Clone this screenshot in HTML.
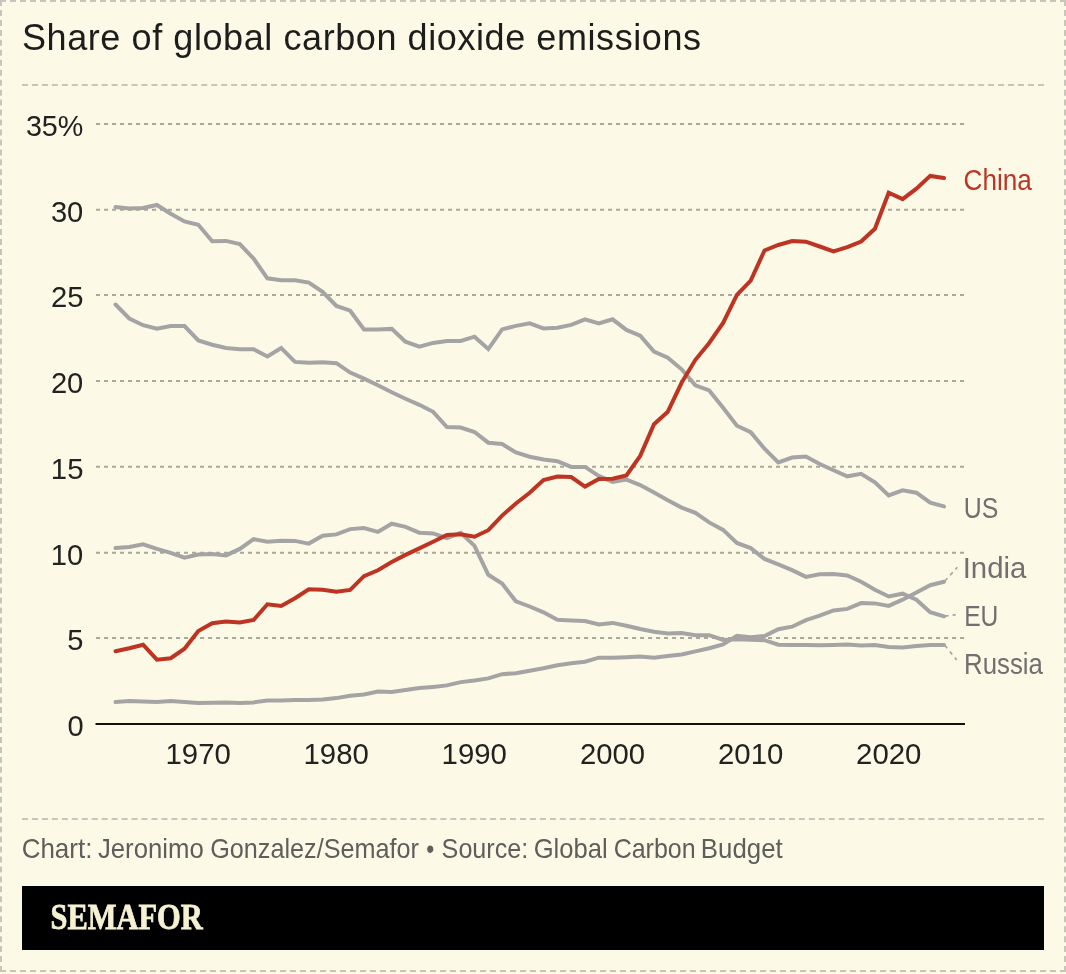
<!DOCTYPE html>
<html lang="en"><head><meta charset="utf-8"><title>Share of global carbon dioxide emissions</title>
<style>
html,body{margin:0;padding:0;background:#fcfae7;}
body{width:1066px;height:974px;position:relative;overflow:hidden;font-family:"Liberation Sans",Arial,sans-serif;}
#chart{position:absolute;left:0;top:0;width:1066px;height:974px;display:block;}
text{font-family:"Liberation Sans",Arial,sans-serif;}
.serif{font-family:"Liberation Serif","Times New Roman",serif;font-weight:bold;}
</style></head><body>
<svg id="chart" width="1066" height="974" viewBox="0 0 1066 974">
<rect x="0" y="0" width="1066" height="974" fill="#fcfae7"/>
<!-- outer dashed frame -->
<g stroke="#c8c5bd" stroke-width="2" fill="none">
<line x1="0" y1="1" x2="1066" y2="1" stroke-dasharray="6 4"/>
<line x1="0" y1="971" x2="1066" y2="971" stroke-dasharray="6 4"/>
<line x1="1" y1="0" x2="1" y2="972" stroke-dasharray="6 3.959"/>
<line x1="1065" y1="0" x2="1065" y2="972" stroke-dasharray="6 3.959"/>
<line x1="22" y1="85" x2="1044" y2="85" stroke-dasharray="6 3.96"/>
<line x1="22" y1="819" x2="1044" y2="819" stroke-dasharray="6 3.96"/>
</g>
<text x="22" y="50" font-size="36" fill="#1d1d1b" textLength="679" lengthAdjust="spacing">Share of global carbon dioxide emissions</text>
<!-- grid -->
<g stroke="#a9a998" stroke-width="2" stroke-dasharray="4 4" fill="none">
<line x1="96" y1="123.9" x2="965" y2="123.9"/>
<line x1="96" y1="209.7" x2="965" y2="209.7"/>
<line x1="96" y1="295.1" x2="965" y2="295.1"/>
<line x1="96" y1="380.9" x2="965" y2="380.9"/>
<line x1="96" y1="466.7" x2="965" y2="466.7"/>
<line x1="96" y1="552.8" x2="965" y2="552.8"/>
<line x1="96" y1="638.0" x2="965" y2="638.0"/>
</g>
<line x1="95.5" y1="724" x2="965" y2="724" stroke="#111" stroke-width="2"/>
<g fill="#222220">
<text x="25.90" y="135.9" font-size="30" textLength="57.48" lengthAdjust="spacingAndGlyphs">35%</text>
<text x="50.88" y="221.7" font-size="30" textLength="32.43" lengthAdjust="spacingAndGlyphs">30</text>
<text x="50.91" y="307.1" font-size="30" textLength="32.50" lengthAdjust="spacingAndGlyphs">25</text>
<text x="50.92" y="392.9" font-size="30" textLength="32.39" lengthAdjust="spacingAndGlyphs">20</text>
<text x="50.86" y="478.7" font-size="30" textLength="32.56" lengthAdjust="spacingAndGlyphs">15</text>
<text x="50.87" y="564.8" font-size="30" textLength="32.45" lengthAdjust="spacingAndGlyphs">10</text>
<text x="67.34" y="650.0" font-size="30" textLength="16.13" lengthAdjust="spacingAndGlyphs">5</text>
<text x="67.42" y="735.7" font-size="30" textLength="16.16" lengthAdjust="spacingAndGlyphs">0</text>
<text x="165.45" y="763.9" font-size="30" textLength="65.41" lengthAdjust="spacingAndGlyphs">1970</text>
<text x="303.45" y="763.9" font-size="30" textLength="65.41" lengthAdjust="spacingAndGlyphs">1980</text>
<text x="441.55" y="763.9" font-size="30" textLength="65.41" lengthAdjust="spacingAndGlyphs">1990</text>
<text x="579.91" y="763.9" font-size="30" textLength="65.03" lengthAdjust="spacingAndGlyphs">2000</text>
<text x="718.01" y="763.9" font-size="30" textLength="65.35" lengthAdjust="spacingAndGlyphs">2010</text>
<text x="856.11" y="763.9" font-size="30" textLength="65.35" lengthAdjust="spacingAndGlyphs">2020</text>
</g>
<g fill="none" stroke="#a5a4a4" stroke-width="4" stroke-linejoin="miter" stroke-linecap="round">
<path d="M115.5,702.1 L129.3,701.1 L143.1,701.4 L156.9,702.1 L170.7,701.1 L184.5,702.1 L198.3,703.1 L212.2,702.8 L226.0,702.6 L239.8,703.1 L253.6,702.4 L267.4,700.4 L281.2,700.4 L295.0,699.9 L308.8,700.1 L322.6,699.6 L336.4,698.1 L350.2,695.7 L364.0,694.4 L377.9,691.6 L391.7,692.1 L405.5,690.1 L419.3,688.1 L433.1,686.9 L446.9,685.4 L460.7,682.1 L474.5,680.4 L488.3,678.4 L502.1,674.2 L515.9,673.2 L529.7,670.7 L543.5,668.2 L557.4,665.2 L571.2,663.2 L585.0,661.7 L598.8,657.7 L612.6,657.7 L626.4,657.2 L640.2,656.4 L654.0,657.7 L667.8,655.9 L681.6,654.4 L695.4,651.4 L709.2,648.2 L723.1,644.5 L736.9,635.7 L750.7,637.2 L764.5,636.0 L778.3,629.2 L792.1,626.7 L805.9,620.1 L819.7,615.7 L833.5,610.4 L847.3,608.9 L861.1,603.1 L874.9,603.4 L888.7,605.9 L902.6,599.7 L916.4,592.5 L930.2,585.2 L944.0,581.7"/>
<path d="M115.5,548.1 L129.3,546.9 L143.1,544.4 L156.9,548.9 L170.7,552.9 L184.5,557.6 L198.3,554.6 L212.2,554.1 L226.0,555.4 L239.8,548.9 L253.6,539.2 L267.4,541.7 L281.2,540.7 L295.0,540.9 L308.8,543.6 L322.6,535.7 L336.4,534.4 L350.2,529.1 L364.0,528.1 L377.9,531.9 L391.7,523.7 L405.5,526.9 L419.3,532.7 L433.1,533.4 L446.9,538.2 L460.7,532.9 L474.5,545.9 L488.3,574.8 L502.1,583.6 L515.9,601.3 L529.7,606.5 L543.5,612.3 L557.4,619.8 L571.2,620.5 L585.0,621.0 L598.8,624.5 L612.6,622.9 L626.4,625.7 L640.2,629.0 L654.0,631.7 L667.8,633.5 L681.6,633.0 L695.4,635.2 L709.2,635.2 L723.1,640.0 L736.9,639.2 L750.7,639.7 L764.5,640.2 L778.3,644.7 L792.1,645.0 L805.9,644.9 L819.7,645.2 L833.5,644.9 L847.3,644.5 L861.1,645.5 L874.9,644.9 L888.7,646.9 L902.6,647.6 L916.4,646.1 L930.2,645.1 L944.0,645.1"/>
<path d="M115.5,304.5 L129.3,318.5 L143.1,325.2 L156.9,328.7 L170.7,326.0 L184.5,326.0 L198.3,340.5 L212.2,344.7 L226.0,348.0 L239.8,349.2 L253.6,349.2 L267.4,356.4 L281.2,348.0 L295.0,361.9 L308.8,362.7 L322.6,362.2 L336.4,363.2 L350.2,372.6 L364.0,378.6 L377.9,385.3 L391.7,392.3 L405.5,398.8 L419.3,404.8 L433.1,411.8 L446.9,427.0 L460.7,427.5 L474.5,432.0 L488.3,442.7 L502.1,444.0 L515.9,452.4 L529.7,456.7 L543.5,459.4 L557.4,461.2 L571.2,466.9 L585.0,466.9 L598.8,475.9 L612.6,481.9 L626.4,479.6 L640.2,485.1 L654.0,492.6 L667.8,500.2 L681.6,507.6 L695.4,512.8 L709.2,522.4 L723.1,529.9 L736.9,542.9 L750.7,548.1 L764.5,558.9 L778.3,564.4 L792.1,570.1 L805.9,576.9 L819.7,574.2 L833.5,573.9 L847.3,575.4 L861.1,581.7 L874.9,589.7 L888.7,596.5 L902.6,593.7 L916.4,599.7 L930.2,612.2 L944.0,616.4"/>
<path d="M115.5,207.0 L129.3,208.5 L143.1,208.0 L156.9,205.0 L170.7,213.7 L184.5,221.4 L198.3,224.7 L212.2,241.2 L226.0,240.9 L239.8,244.1 L253.6,258.6 L267.4,278.3 L281.2,280.3 L295.0,280.3 L308.8,282.6 L322.6,291.8 L336.4,306.0 L350.2,310.7 L364.0,329.5 L377.9,329.4 L391.7,328.9 L405.5,341.7 L419.3,346.6 L433.1,342.9 L446.9,340.9 L460.7,340.9 L474.5,336.7 L488.3,349.1 L502.1,329.4 L515.9,325.9 L529.7,323.4 L543.5,328.4 L557.4,327.7 L571.2,324.9 L585.0,319.4 L598.8,323.4 L612.6,319.3 L626.4,329.9 L640.2,335.6 L654.0,351.6 L667.8,357.6 L681.6,369.3 L695.4,385.3 L709.2,390.5 L723.1,407.7 L736.9,425.7 L750.7,432.2 L764.5,448.7 L778.3,462.4 L792.1,457.6 L805.9,456.6 L819.7,464.0 L833.5,470.2 L847.3,476.3 L861.1,473.8 L874.9,482.4 L888.7,495.4 L902.6,490.4 L916.4,492.7 L930.2,502.6 L944.0,506.4"/>
</g>
<path d="M115.5,651.2 L129.3,648.2 L143.1,644.7 L156.9,659.7 L170.7,658.2 L184.5,648.7 L198.3,631.0 L212.2,623.2 L226.0,621.5 L239.8,622.5 L253.6,620.0 L267.4,604.3 L281.2,606.0 L295.0,598.3 L308.8,589.3 L322.6,589.8 L336.4,591.8 L350.2,589.9 L364.0,576.2 L377.9,570.3 L391.7,562.1 L405.5,554.9 L419.3,548.4 L433.1,541.7 L446.9,534.9 L460.7,534.2 L474.5,536.7 L488.3,530.2 L502.1,515.6 L515.9,503.5 L529.7,492.7 L543.5,480.1 L557.4,476.6 L571.2,477.1 L585.0,486.6 L598.8,479.1 L612.6,478.8 L626.4,475.4 L640.2,455.9 L654.0,424.2 L667.8,411.7 L681.6,382.8 L695.4,359.8 L709.2,343.0 L723.1,322.9 L736.9,294.8 L750.7,280.7 L764.5,250.5 L778.3,245.0 L792.1,241.0 L805.9,241.7 L819.7,246.5 L833.5,251.5 L847.3,247.2 L861.1,241.5 L874.9,228.8 L888.7,192.8 L902.6,199.1 L916.4,188.6 L930.2,175.9 L944.0,178.1" fill="none" stroke="#be3422" stroke-width="4" stroke-linejoin="miter" stroke-linecap="round"/>
<g stroke="#a5a4a4" stroke-width="1.7" stroke-dasharray="4 4" fill="none">
<line x1="944.7" y1="581.2" x2="957.3" y2="567.3"/>
<line x1="944.7" y1="616.2" x2="955.7" y2="614.7"/>
<line x1="944.7" y1="645.2" x2="956.7" y2="660"/>
</g>
<g fill="#716f6f">
<text x="963.62" y="190.0" font-size="29" textLength="68.31" lengthAdjust="spacingAndGlyphs" fill="#be3422">China</text>
<text x="963.87" y="518.0" font-size="29" textLength="34.56" lengthAdjust="spacingAndGlyphs">US</text>
<text x="962.69" y="577.7" font-size="29" textLength="63.65" lengthAdjust="spacingAndGlyphs">India</text>
<text x="964.17" y="625.6" font-size="29" textLength="34.23" lengthAdjust="spacingAndGlyphs">EU</text>
<text x="964.08" y="673.5" font-size="29" textLength="78.86" lengthAdjust="spacingAndGlyphs">Russia</text>
</g>
<g fill="#5e5e5a">
<text x="21.63" y="858.0" font-size="28" textLength="70.73" lengthAdjust="spacingAndGlyphs">Chart:</text>
<text x="97.94" y="858.0" font-size="28" textLength="105.80" lengthAdjust="spacingAndGlyphs">Jeronimo</text>
<text x="210.19" y="858.0" font-size="28" textLength="208.79" lengthAdjust="spacingAndGlyphs">Gonzalez/Semafor</text>
<text x="426.28" y="858.0" font-size="28" textLength="8.00" lengthAdjust="spacingAndGlyphs">•</text>
<text x="441.62" y="858.0" font-size="28" textLength="86.66" lengthAdjust="spacingAndGlyphs">Source:</text>
<text x="533.67" y="858.0" font-size="28" textLength="74.02" lengthAdjust="spacingAndGlyphs">Global</text>
<text x="613.68" y="858.0" font-size="28" textLength="81.96" lengthAdjust="spacingAndGlyphs">Carbon</text>
<text x="700.87" y="858.0" font-size="28" textLength="81.80" lengthAdjust="spacingAndGlyphs">Budget</text>
</g>
<rect x="22" y="886" width="1022" height="64" fill="#000"/>
<text x="50.58" y="929.3" font-size="36.5" textLength="152.16" lengthAdjust="spacingAndGlyphs" class="serif" fill="#f6f1d3" stroke="#f6f1d3" stroke-width="0.8">SEMAFOR</text>
</svg>
</body></html>
